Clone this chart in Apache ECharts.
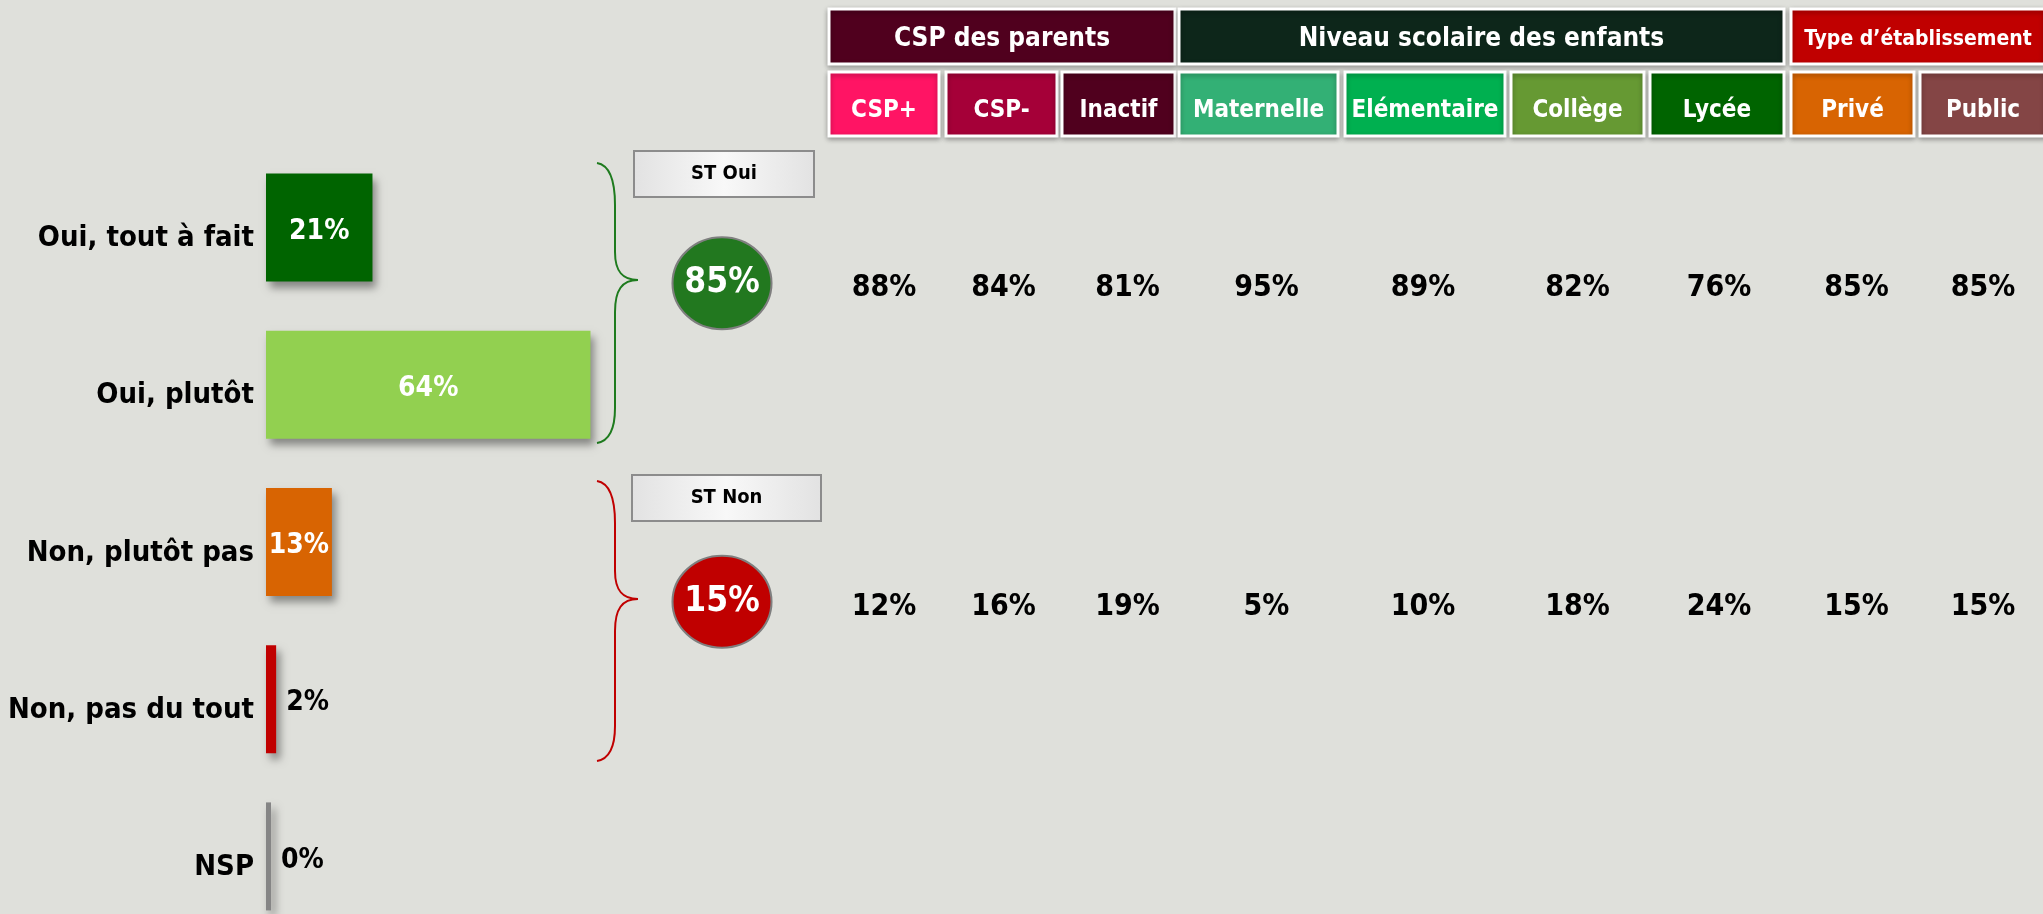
<!DOCTYPE html>
<html>
<head>
<meta charset="utf-8">
<script src="https://cdn.jsdelivr.net/npm/echarts@6/dist/echarts.min.js"></script>
<style>
  html, body { margin: 0; padding: 0; background: #dfe0db; height: 914px; overflow: hidden; }
  #chart { width: 2043px; height: 936px; }
</style>
</head>
<body>
<div id="chart"></div>
<script>
  // --- data ---
  const answers = ['Oui, tout à fait', 'Oui, plutôt', 'Non, plutôt pas', 'Non, pas du tout', 'NSP'];
  const answerValues = [21, 64, 13, 2, 0];
  const totals = ['ST Oui', 'ST Non'];
  const totalValues = [85, 15];
  const groups = ['CSP des parents', 'Niveau scolaire des enfants', 'Type d’établissement'];
  const subgroups = ['CSP+', 'CSP-', 'Inactif', 'Maternelle', 'Elémentaire', 'Collège', 'Lycée', 'Privé', 'Public'];
  const ouiBySubgroup = [88, 84, 81, 95, 89, 82, 76, 85, 85];
  const nonBySubgroup = [12, 16, 19, 5, 10, 18, 24, 15, 15];

  // --- styles / layout ---
  const FONT = "'DejaVu Sans Condensed', 'DejaVu Sans', sans-serif";
  const barColors = ['#006400', '#92d050', '#d86402', '#c00000', '#858585'];
  const totalColors = ['#22781f', '#c00000'];
  const braceColors = ['#1e7b1e', '#c00000'];
  const groupColors = ['#50001e', '#0d261a', '#c00000'];
  const groupCells = [[0, 2], [3, 6], [7, 8]];
  const groupFontSize = [26, 26, 21];
  const subgroupColors = ['#ff1464', '#a50038', '#50001e', '#33b075', '#00b050', '#669933', '#006400', '#d86402', '#844545'];
  const cellLeft = [829, 946, 1062, 1179, 1345, 1511, 1650, 1791, 1920];
  const cellWidth = [110, 111, 113, 159, 160, 133, 134, 123, 126];
  const valueShift = [0, 2, 9, 8, -2, 0, 2, 4, 0];
  const stX = 722;

  const colCenter = (i) => cellLeft[i] + cellWidth[i] / 2;

  const chart = echarts.init(document.getElementById('chart'));

  const graphics = [];

  // group headers
  groupCells.forEach((span, g) => {
    const x0 = cellLeft[span[0]];
    const x1 = g === 2 ? 2045 : cellLeft[span[1]] + cellWidth[span[1]];
    graphics.push({
      type: 'rect',
      shape: { x: x0, y: 9, width: x1 - x0, height: 55 },
      style: { fill: groupColors[g], stroke: '#fff', lineWidth: 3, shadowBlur: 5, shadowOffsetY: 2, shadowColor: 'rgba(0,0,0,0.3)' },
      textContent: { style: { text: groups[g], fill: '#fff', fontSize: groupFontSize[g], fontWeight: 'bold', fontFamily: FONT } },
      textConfig: { position: 'inside', offset: [0, 3] }
    });
  });

  // subgroup headers
  subgroups.forEach((name, i) => {
    graphics.push({
      type: 'rect',
      shape: { x: cellLeft[i], y: 72, width: cellWidth[i], height: 64 },
      style: { fill: subgroupColors[i], stroke: '#fff', lineWidth: 3, shadowBlur: 5, shadowOffsetY: 2, shadowColor: 'rgba(0,0,0,0.3)' },
      textContent: { style: { text: name, fill: '#fff', fontSize: 24, fontWeight: 'bold', fontFamily: FONT } },
      textConfig: { position: 'inside', offset: [0, 7] }
    });
  });

  // ST boxes
  const stBoxes = [[634, 151, 180], [632, 475, 189]];
  stBoxes.forEach((b, i) => {
    graphics.push({
      type: 'rect',
      shape: { x: b[0], y: b[1], width: b[2], height: 46 },
      style: {
        fill: new echarts.graphic.LinearGradient(0, 0, 1, 0, [
          { offset: 0, color: '#e2e2e2' },
          { offset: 0.5, color: '#f8f8f8' },
          { offset: 1, color: '#e2e2e2' }
        ]),
        stroke: '#8c8c8c',
        lineWidth: 2
      },
      textContent: { style: { text: totals[i], fill: '#000', fontSize: 20, fontWeight: 'bold', fontFamily: FONT } },
      textConfig: { position: 'inside' }
    });
  });

  // braces: top, tip, bottom y
  const braces = [[163, 280, 443], [481, 599, 761]];
  braces.forEach((b, i) => {
    const [t, m, bt] = b;
    const xl = 597, xs = 615, xt = 638;
    const style = { fill: 'none', stroke: braceColors[i], lineWidth: 2 };
    graphics.push(
      { type: 'bezierCurve', shape: { x1: xl, y1: t, cpx1: xl + 12, cpy1: t + 2, cpx2: xs, cpy2: t + 15, x2: xs, y2: t + 42 }, style },
      { type: 'line', shape: { x1: xs, y1: t + 42, x2: xs, y2: m - 28 }, style },
      { type: 'bezierCurve', shape: { x1: xs, y1: m - 28, cpx1: xs, cpy1: m - 9, cpx2: xs + 7, cpy2: m, x2: xt, y2: m }, style },
      { type: 'bezierCurve', shape: { x1: xt, y1: m, cpx1: xs + 7, cpy1: m, cpx2: xs, cpy2: m + 10, x2: xs, y2: m + 32 }, style },
      { type: 'line', shape: { x1: xs, y1: m + 32, x2: xs, y2: bt - 35 }, style },
      { type: 'bezierCurve', shape: { x1: xs, y1: bt - 35, cpx1: xs, cpy1: bt - 13, cpx2: xl + 12, cpy2: bt - 2, x2: xl, y2: bt }, style }
    );
  });

  const tableData = [];
  subgroups.forEach((s, i) => {
    tableData.push([colCenter(i) + valueShift[i], 0, ouiBySubgroup[i]]);
    tableData.push([colCenter(i) + valueShift[i], 1, nonBySubgroup[i]]);
  });

  chart.setOption({
    animation: false,
    backgroundColor: '#dfe0db',
    grid: [
      { left: 266, top: 149, width: 507, height: 786, outerBoundsMode: 'none' },
      { left: 0, top: 124, width: 2043, height: 637, outerBoundsMode: 'none' }
    ],
    xAxis: [
      { type: 'value', gridIndex: 0, min: 0, max: 100, show: false },
      { type: 'value', gridIndex: 1, min: 0, max: 2043, show: false }
    ],
    yAxis: [
      {
        type: 'category', gridIndex: 0, data: answers, inverse: true,
        axisLine: { show: false }, axisTick: { show: false }, splitLine: { show: false },
        axisLabel: {
          fontSize: 29, fontWeight: 'bold', color: '#000', fontFamily: FONT, margin: 12,
          verticalAlign: 'top', lineHeight: 22
        }
      },
      { type: 'category', gridIndex: 1, data: totals, inverse: true, show: false }
    ],
    graphic: { elements: graphics },
    series: [
      {
        type: 'bar',
        xAxisIndex: 0, yAxisIndex: 0,
        barWidth: 108,
        barMinHeight: 5,
        itemStyle: { shadowBlur: 8, shadowOffsetX: 4, shadowOffsetY: 6, shadowColor: 'rgba(0,0,0,0.4)' },
        label: { show: true, formatter: '{c}%', fontSize: 28, fontWeight: 'bold', fontFamily: FONT, offset: [0, 4] },
        data: answerValues.map((v, i) => ({
          value: v,
          itemStyle: { color: barColors[i] },
          label: v >= 10 ? { position: 'inside', color: '#fff' } : { position: 'right', color: '#000', distance: 10 }
        }))
      },
      {
        type: 'scatter',
        xAxisIndex: 1, yAxisIndex: 1,
        symbol: 'circle',
        symbolSize: [99, 92],
        data: totalValues.map((v, i) => ({
          value: [stX, i, v],
          itemStyle: { color: totalColors[i], borderColor: '#7f7f7f', borderWidth: 2, opacity: 1 }
        })),
        label: {
          show: true, position: 'inside', color: '#fff', fontSize: 35, fontWeight: 'bold', fontFamily: FONT,
          formatter: (p) => p.value[2] + '%'
        }
      },
      {
        type: 'scatter',
        xAxisIndex: 1, yAxisIndex: 1,
        symbolSize: 1,
        itemStyle: { color: 'rgba(0,0,0,0)', opacity: 1 },
        data: tableData,
        label: {
          show: true, position: 'inside', color: '#000', fontSize: 30, fontWeight: 'bold', fontFamily: FONT,
          offset: [0, 5],
          formatter: (p) => p.value[2] + '%'
        }
      }
    ]
  });
</script>
</body>
</html>
